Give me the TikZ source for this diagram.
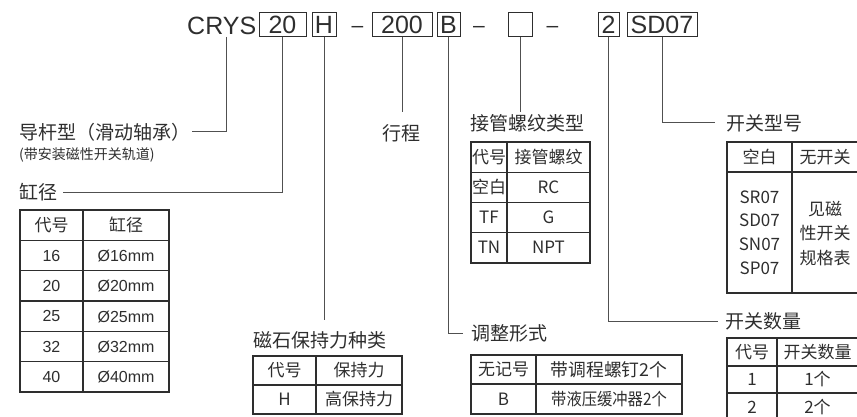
\documentclass[tikz,border=0pt]{standalone}
\usepackage{fontspec}
\setmainfont{Noto Sans CJK SC}
\newfontfamily\arialfont{Liberation Sans}
\usetikzlibrary{positioning}
\definecolor{ink}{HTML}{2E2E2E}
\definecolor{wire}{HTML}{505050}

\begin{document}
\begin{tikzpicture}[x=1pt,y=-1pt,
		conn/.style={draw=wire,line width=1pt},
		grid/.style={draw=ink,line width=1.2pt},
		codebox/.style={draw=ink,line width=1pt,minimum height=24pt,inner sep=0pt,text=ink,font=\arialfont\fontsize{25}{25}\selectfont},
		lbl/.style={anchor=west,inner sep=2pt,text=ink,font=\fontsize{19}{19}\selectfont},
		cell/.style={inner sep=0pt,text=ink,font=\fontsize{17}{17}\selectfont},
		num/.style={inner sep=0pt,text=ink,font=\arialfont\fontsize{16}{16}\selectfont}]
				\useasboundingbox (0,0) rectangle (857,417);
				% model code
				\node[anchor=base west,inner sep=0pt,text=ink,font=\arialfont\fontsize{25}{25}\selectfont] (crys) at (187,35) {CRYS};
				\node[codebox,minimum width=47pt] (b20) at (282.5,25) {20};
				\node[codebox,minimum width=24pt] (bH) at (324,25) {H};
				\node[anchor=base,inner sep=0pt,text=ink,font=\arialfont\fontsize{21}{21}\selectfont] (dash1) at (357.5,33) {–};
				\node[codebox,minimum width=60pt] (b200) at (402,25) {200};
				\node[codebox,minimum width=23pt] (bB) at (448.5,25) {B};
				\node[anchor=base,inner sep=0pt,text=ink,font=\arialfont\fontsize{21}{21}\selectfont] (dash2) at (479,33) {–};
				\node[codebox,minimum width=24pt] (bnone) at (520,25) {};
				\node[anchor=base,inner sep=0pt,text=ink,font=\arialfont\fontsize{21}{21}\selectfont] (dash3) at (552.5,33) {–};
				\node[codebox,minimum width=21pt] (b2) at (608.5,25) {2};
				\node[codebox,minimum width=70pt] (bSD) at (662,25) {SD07};
				% labels
				\node[lbl] (guide) at (17,132) {导杆型（滑动轴承）};
				\node[anchor=west,inner sep=2pt,text=ink,font=\fontsize{14}{14}\selectfont] (guidenote) at (17,155) {(带安装磁性开关轨道)};
				\node[lbl] (bore) at (17,192) {缸径};
				\node[lbl,anchor=center] (stroke) at (401,133) {行程};
				\node[lbl] (thread) at (468,123) {接管螺纹类型};
				\node[lbl] (swtype) at (724,123) {开关型号};
				\node[lbl] (magnet) at (251,340) {磁石保持力种类};
				\node[lbl] (adjust) at (469,333) {调整形式};
				\node[lbl] (swnum) at (723,321) {开关数量};
				% leaders
				\coordinate (crysY) at (226,37);
				\coordinate (magnetEnd) at (324,320);
				\coordinate (strokeEnd) at (402,112);
				\coordinate (threadEnd) at (520,112);
				\draw[conn] (crysY) |- (guide.east);
				\draw[conn] (b20.south) |- ([xshift=4pt]bore.east);
				\draw[conn] (bH.south) -- (magnetEnd);
				\draw[conn] (b200.south) -- (strokeEnd);
				\draw[conn] (bB.south) |- ([xshift=-6pt]adjust.west);
				\draw[conn] (bnone.south) -- (threadEnd);
				\draw[conn] (b2.south) |- ([xshift=-5pt]swnum.west);
				\draw[conn] (bSD.south) |- ([xshift=-9pt]swtype.west);
				% bore table
				\draw[grid] (20,210) rectangle (169,392);
				\draw[grid] (83,210) -- (83,392);
				\foreach \k in {1,...,5} \draw[grid] (20,{210+30.33*\k}) -- (169,{210+30.33*\k});
				\node[cell] (boreA0) at (51.5,225) {代号};
				\node[cell] (boreB0) at (126,225) {缸径};
				\foreach \dia [count=\k] in {16,20,25,32,40} {
					\node[num] (boreA\k) at (51.5,{225.5+30.33*\k}) {\dia};
					\node[num] (boreB\k) at (126,{225.5+30.33*\k}) {Ø\dia mm};
				}
				% thread table
				\draw[grid] (471,142) rectangle (590,263);
				\draw[grid] (507,142) -- (507,263);
				\foreach \k in {1,2,3} \draw[grid] (471,{142+30.25*\k}) -- (590,{142+30.25*\k});
				\foreach \code/\kind [count=\k from 0] in {代号/接管螺纹,空白/RC,TF/G,TN/NPT} {
					\node[cell] (threadA\k) at (489,{157+30.25*\k}) {\code};
					\node[cell] (threadB\k) at (548.5,{157+30.25*\k}) {\kind};
				}
				% switch type table
				\draw[grid] (859,142) -- (727,142) -- (727,293) -- (859,293);
				\draw[grid] (727,172) -- (859,172);
				\draw[grid] (792,142) -- (792,293);
				\node[cell] (swtypeA0) at (759.5,157) {空白};
				\node[cell] (swtypeB0) at (825,157) {无开关};
				\node[cell,align=center,font=\fontsize{17}{23.7}\selectfont] (swtypeA1) at (759.5,232.5) {SR07\\SD07\\SN07\\SP07};
				\node[cell,align=center,font=\fontsize{17}{24.5}\selectfont] (swtypeB1) at (825,233.5) {见磁\\性开关\\规格表};
				% magnet table
				\draw[grid] (253,356) rectangle (402,414);
				\draw[grid] (316,356) -- (316,414);
				\draw[grid] (253,385) -- (402,385);
				\node[cell] (magnetA0) at (284.5,370.5) {代号};
				\node[cell] (magnetB0) at (359,370.5) {保持力};
				\node[cell] (magnetA1) at (284.5,399.5) {H};
				\node[cell] (magnetB1) at (359,399.5) {高保持力};
				% adjust table
				\draw[grid] (471,355) rectangle (682,414);
				\draw[grid] (536,355) -- (536,414);
				\draw[grid] (471,384) -- (682,384);
				\node[cell] (adjustA0) at (503.5,369.5) {无记号};
				\node[cell,font=\fontsize{17.8}{17.8}\selectfont] (adjustB0) at (609,369.5) {带调程螺钉2个};
				\node[cell] (adjustA1) at (503.5,399) {B};
				\node[cell] (adjustB1) at (609,399) {\scalebox{0.9}[1]{带液压缓冲器2个}};
				% switch count table
				\draw[grid] (859,338) -- (727,338) -- (727,421);
				\draw[grid] (777,338) -- (777,421);
				\draw[grid] (727,366) -- (859,366);
				\draw[grid] (727,393) -- (859,393);
				\foreach \code/\qty [count=\k from 0] in {代号/开关数量,1/1个,2/2个} {
					\node[cell] (swnumA\k) at (752,{352+27.5*\k}) {\code};
					\node[cell] (swnumB\k) at (817.5,{352+27.5*\k}) {\qty};
				}
			\end{tikzpicture}
\end{document}
